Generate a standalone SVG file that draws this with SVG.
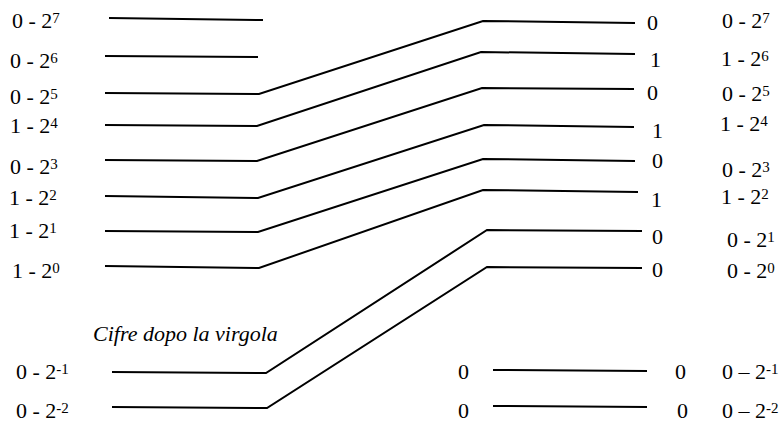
<svg xmlns="http://www.w3.org/2000/svg" width="781" height="427" viewBox="0 0 781 427">
<style>
text{font-family:'Liberation Serif','Times New Roman',serif;font-size:22px;fill:#000}
.sup{font-size:15px}
.it{font-style:italic}
line,polyline{stroke:#000;stroke-width:2;fill:none}
</style>
<rect width="781" height="427" fill="#fff"/>
<g id="left-labels">
<g id="l7"><text x="12" y="28">0 - 2<tspan class="sup" dy="-5">7</tspan></text></g>
<g id="l6"><text x="10" y="68">0 - 2<tspan class="sup" dy="-5">6</tspan></text></g>
<g id="l5"><text x="10" y="104">0 - 2<tspan class="sup" dy="-5">5</tspan></text></g>
<g id="l4"><text x="10" y="133">1 - 2<tspan class="sup" dy="-5">4</tspan></text></g>
<g id="l3"><text x="10" y="174">0 - 2<tspan class="sup" dy="-5">3</tspan></text></g>
<g id="l2"><text x="9" y="205">1 - 2<tspan class="sup" dy="-5">2</tspan></text></g>
<g id="l1"><text x="9" y="238">1 - 2<tspan class="sup" dy="-5">1</tspan></text></g>
<g id="l0"><text x="12" y="278">1 - 2<tspan class="sup" dy="-5">0</tspan></text></g>
<g id="caption"><text class="it" x="93" y="341">Cifre dopo la virgola</text></g>
<g id="lm1"><text x="16" y="379">0 - 2<tspan class="sup" dy="-5">-1</tspan></text></g>
<g id="lm2"><text x="16" y="418">0 - 2<tspan class="sup" dy="-5">-2</tspan></text></g>
</g>
<g id="connectors">
<line x1="109" y1="18" x2="263" y2="20"/>
<line x1="105" y1="56" x2="258" y2="57"/>
<polyline points="105,93 259,94 483,21 635,23"/>
<polyline points="105,125 257,126 481,52 635,54"/>
<polyline points="105,160 257,161 482,88 634,89"/>
<polyline points="105,196 258,198 484,125 634,127"/>
<polyline points="105,231 258,232 483,159 635,161"/>
<polyline points="105,266 259,268 483,190 638,192"/>
<polyline points="112,372 266,373 487,230 642,231"/>
<polyline points="112,407 267,408 487,267 642,268"/>
<line x1="493" y1="370" x2="647" y2="371"/>
<line x1="493" y1="406" x2="647" y2="407"/>
</g>
<g id="bits">
<g id="b7"><text x="647" y="30">0</text></g>
<g id="b6"><text x="650" y="67">1</text></g>
<g id="b5"><text x="647" y="100">0</text></g>
<g id="b4"><text x="652" y="138">1</text></g>
<g id="b3"><text x="652" y="168">0</text></g>
<g id="b2"><text x="651" y="207">1</text></g>
<g id="b1"><text x="652" y="244">0</text></g>
<g id="b0"><text x="652" y="277">0</text></g>
<g id="bm1in"><text x="458" y="379">0</text></g>
<g id="bm1"><text x="675" y="379">0</text></g>
<g id="bm2in"><text x="458" y="418">0</text></g>
<g id="bm2"><text x="677" y="418">0</text></g>
</g>
<g id="right-labels">
<g id="r7"><text x="722" y="28">0 - 2<tspan class="sup" dy="-5">7</tspan></text></g>
<g id="r6"><text x="721" y="66">1 - 2<tspan class="sup" dy="-5">6</tspan></text></g>
<g id="r5"><text x="722" y="101">0 - 2<tspan class="sup" dy="-5">5</tspan></text></g>
<g id="r4"><text x="720" y="131">1 - 2<tspan class="sup" dy="-5">4</tspan></text></g>
<g id="r3"><text x="722" y="177">0 - 2<tspan class="sup" dy="-5">3</tspan></text></g>
<g id="r2"><text x="721" y="204">1 - 2<tspan class="sup" dy="-5">2</tspan></text></g>
<g id="r1"><text x="727" y="247">0 - 2<tspan class="sup" dy="-5">1</tspan></text></g>
<g id="r0"><text x="727" y="278">0 - 2<tspan class="sup" dy="-5">0</tspan></text></g>
<g id="rm1"><text x="722" y="379">0 – 2<tspan class="sup" dy="-5">-1</tspan></text></g>
<g id="rm2"><text x="722" y="418">0 – 2<tspan class="sup" dy="-5">-2</tspan></text></g>
</g>
</svg>
